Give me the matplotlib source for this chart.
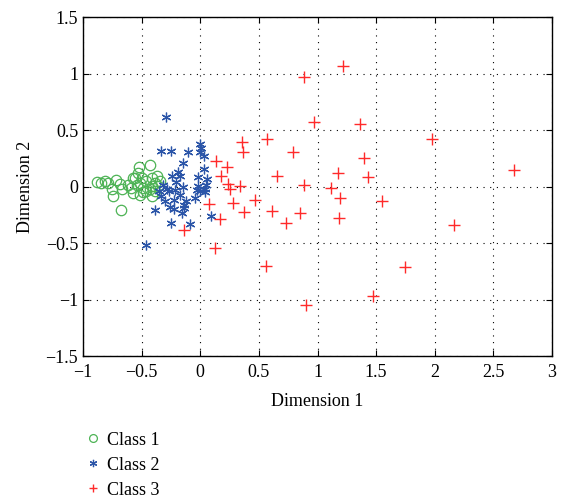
import matplotlib
matplotlib.use("Agg")
import matplotlib.pyplot as plt
import numpy as np

plt.rcParams['font.family'] = ['Liberation Serif', 'DejaVu Serif']

# class 1 (green circles)
c1_x = [-0.88, -0.851, -0.814, -0.786, -0.715, -0.687, -0.757, -0.672, -0.744, -0.678,
        -0.595, -0.573, -0.524, -0.425, -0.573, -0.544, -0.501, -0.516, -0.488, -0.459,
        -0.459, -0.416, -0.408, -0.416, -0.388, -0.373, -0.345, -0.53, -0.616, -0.488,
        -0.388, -0.559, -0.359, -0.425, -0.516]
c1_y = [0.038, 0.033, 0.047, 0.033, 0.062, 0.026, -0.018, -0.018, -0.086, -0.209,
        -0.011, 0.077, 0.17, 0.188, -0.056, 0.018, 0.077, 0.033, -0.011, 0.047,
        -0.041, 0.077, 0.003, -0.086, 0.033, 0.091, 0.047, 0.121, 0.018, -0.05,
        -0.035, 0.077, 0.003, -0.02, -0.07]

# class 2 (blue stars)
c2_x = [-0.29, 0.0, 0.01, -0.331, -0.246, -0.109, 0.0, 0.03, -0.147, 0.03,
        -0.186, -0.175, -0.243, -0.018, 0.053, -0.21, -0.317, -0.147, -0.018, 0.047,
        -0.288, 0.038, -0.217, -0.032, -0.351, -0.269, 0.0, -0.331, -0.169, 0.038,
        -0.226, -0.124, -0.047, -0.303, -0.138, -0.26, -0.226, -0.138, -0.388, -0.16,
        0.09, -0.254, -0.09, -0.459]
c2_y = [0.618, 0.38, 0.34, 0.312, 0.312, 0.306, 0.31, 0.27, 0.209, 0.156,
        0.13, 0.097, 0.091, 0.086, 0.068, 0.038, 0.011, 0.0, 0.003, 0.018,
        -0.018, -0.018, -0.026, -0.026, -0.035, -0.041, -0.041, -0.079, -0.07, -0.05,
        -0.115, -0.124, -0.1, -0.13, -0.159, -0.183, -0.197, -0.188, -0.209, -0.232,
        -0.262, -0.32, -0.329, -0.521]

# class 3 (red plus)
c3_x = [1.22, 0.885, 0.97, 1.363, 1.977, 0.57, 0.357, 0.368, 0.79, 1.40,
        2.68, 0.132, 0.229, 1.175, 0.178, 0.655, 1.431, 0.235, 0.337, 0.252,
        0.883, 1.116, 1.195, 1.554, 0.075, 0.28, 0.465, 0.377, 0.61, 0.851,
        0.169, 0.735, 1.187, 2.16, 0.124, 0.559, 1.75, 1.474, 0.902, -0.138]
c3_y = [1.07, 0.973, 0.574, 0.556, 0.418, 0.424, 0.394, 0.306, 0.309, 0.253,
        0.15, 0.223, 0.17, 0.121, 0.097, 0.091, 0.082, 0.026, 0.009, -0.02,
        0.015, -0.009, -0.1, -0.124, -0.153, -0.147, -0.121, -0.227, -0.212, -0.235,
        -0.289, -0.324, -0.277, -0.338, -0.541, -0.703, -0.715, -0.968, -1.044, -0.38]

fig = plt.figure(figsize=(5.65, 5.03), dpi=100)
ax = fig.add_axes([0.147, 0.292, 0.830, 0.674])

ax.plot(c1_x, c1_y, 'o', mfc='none', mec='#4db355', ms=7.5, mew=0.9, label='Class 1')
ax.plot(c2_x, c2_y, ls='none', marker=(6, 2, 0), color='#2b55a8', ms=7, mew=0.9, label='Class 2')
ax.plot(c3_x, c3_y, '+', color='#ff2a2a', ms=8, mew=1.0, label='Class 3')

ax.set_xlim(-1, 3)
ax.set_ylim(-1.5, 1.5)
ax.set_xticks(np.arange(-1, 3.01, 0.5))
ax.set_yticks(np.arange(-1.5, 1.51, 0.5))
ax.set_xticklabels(['\u22121', '\u22120.5', '0', '0.5', '1', '1.5', '2', '2.5', '3'])
ax.set_yticklabels(['\u22121.5', '\u22121', '\u22120.5', '0', '0.5', '1', '1.5'])
ax.tick_params(direction='in', top=True, right=True, labelsize=13, length=4)
ax.tick_params(axis='x', pad=6)
ax.grid(True, color='black', linestyle=(0, (1, 5)), linewidth=0.8)
ax.set_xlabel('Dimension 1', fontsize=13, labelpad=8)
ax.set_ylabel('Dimension 2', fontsize=13, labelpad=8)
for s in ax.spines.values():
    s.set_linewidth(1.0)

h, l = ax.get_legend_handles_labels()
leg = fig.legend(h, l, loc='upper left', bbox_to_anchor=(0.135, 0.16), frameon=False,
                 fontsize=13, markerscale=0.75, handlelength=0.8, handletextpad=0.4,
                 labelspacing=0.45, borderpad=0)

fig.savefig('out.png', dpi=100)
